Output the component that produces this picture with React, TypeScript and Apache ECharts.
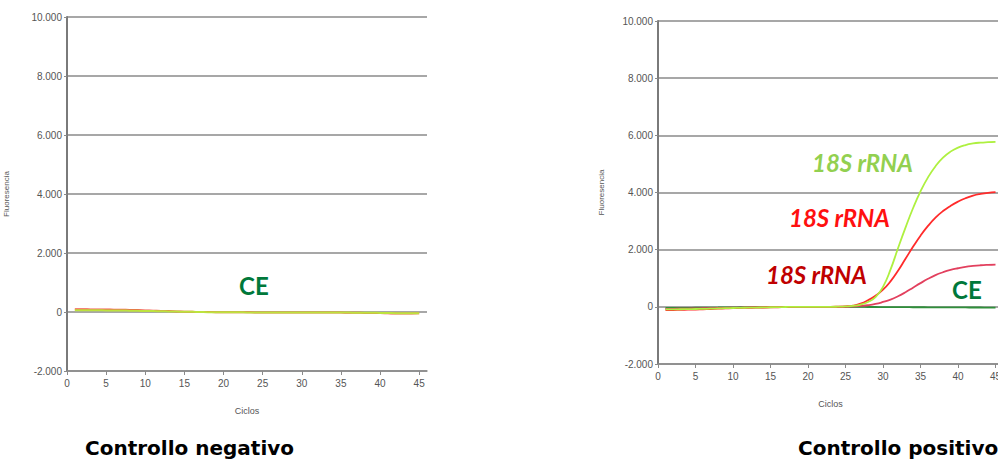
import React, { useEffect, useRef } from "react";
import * as echarts from "echarts";

const cycles = [1,2,3,4,5,6,7,8,9,10,11,12,13,14,15,16,17,18,19,20,21,22,23,24,25,26,27,28,29,30,31,32,33,34,35,36,37,38,39,40,41,42,43,44,45];
const xTicks = [0,5,10,15,20,25,30,35,40,45];
const yTicks = [-2000,0,2000,4000,6000,8000,10000];

// Controllo negativo
const negRed = [90,92,88,85,82,80,76,70,64,55,46,36,30,20,12,5,0,0,-5,-5,-10,-10,-10,-15,-15,-15,-15,-15,-20,-20,-20,-20,-20,-20,-20,-25,-25,-30,-30,-35,-45,-55,-55,-50,-45];
const negGreen = [60,62,60,56,55,50,50,45,40,35,30,25,20,15,10,5,0,-5,-5,-10,-10,-10,-15,-15,-15,-15,-15,-15,-15,-20,-20,-20,-20,-20,-20,-20,-25,-25,-25,-30,-35,-40,-40,-40,-40];

// Controllo positivo
const posGreen18S = [-90,-90,-85,-80,-75,-70,-65,-55,-45,-40,-35,-30,-25,-20,-15,-10,-5,0,0,0,0,0,0,5,15,35,80,170,340,700,1300,2050,2770,3450,4040,4530,4920,5220,5430,5570,5660,5715,5745,5760,5770];
const posRed18S = [-110,-110,-105,-100,-95,-85,-75,-65,-55,-45,-40,-35,-30,-25,-20,-15,-10,-5,0,0,0,0,0,5,15,45,110,230,390,600,890,1260,1680,2100,2490,2830,3120,3350,3530,3680,3800,3890,3950,3990,4010];
const posCrimson18S = [-70,-70,-65,-60,-55,-50,-45,-40,-35,-30,-25,-20,-18,-15,-12,-10,-8,-5,-3,0,0,0,0,0,5,15,30,55,100,170,255,370,510,670,830,980,1110,1210,1290,1350,1400,1432,1455,1470,1480];
const posCE = [-40,-40,-38,-35,-32,-30,-27,-24,-20,-17,-14,-11,-8,-5,-3,0,0,0,0,0,0,0,0,0,0,-2,-4,-5,-6,-8,-10,-11,-12,-14,-15,-16,-18,-19,-20,-21,-22,-23,-24,-25,-25];

const pairs = (vals: number[]) => cycles.map((c, i) => [c, vals[i]]);

const axisGray = "#8a8a8a";
const labelGray = "#555";
const tickFont = "Liberation Sans";

function xAxisCfg(gridIndex: number) {
  return {
    type: "value",
    gridIndex,
    min: 0,
    max: 46,
    name: "Ciclos",
    nameLocation: "middle",
    nameGap: 35,
    nameTextStyle: { color: labelGray, fontSize: 9, fontFamily: tickFont },
    axisLine: { show: true, onZero: false, lineStyle: { color: axisGray, width: 1.5 } },
    axisTick: { show: true, length: 4, customValues: xTicks, lineStyle: { color: axisGray } },
    axisLabel: { customValues: xTicks, color: labelGray, fontSize: 10, fontFamily: tickFont, margin: 7 },
    splitLine: { show: false },
  };
}

function yAxisCfg(gridIndex: number, nameGap: number) {
  return {
    type: "value",
    gridIndex,
    min: -2000,
    max: 10000,
    interval: 2000,
    name: "Fluoresencia",
    nameLocation: "middle",
    nameGap,
    nameRotate: 90,
    nameTextStyle: { color: labelGray, fontSize: 8, fontFamily: tickFont },
    axisLine: { show: true, lineStyle: { color: "#7a7a7a", width: 2 } },
    axisTick: { show: true, length: 3, lineStyle: { color: axisGray } },
    axisLabel: {
      color: labelGray,
      fontSize: 10,
      fontFamily: tickFont,
      margin: 5,
      formatter: (v: number) => (yTicks.includes(v) ? v.toLocaleString("de-DE") : ""),
    },
    splitLine: { show: true, lineStyle: { color: axisGray, width: 1.5 } },
  };
}

function lineSeries(xi: number, data: number[], color: string, width = 1.8) {
  return {
    type: "line",
    xAxisIndex: xi,
    yAxisIndex: xi,
    data: pairs(data),
    smooth: true,
    showSymbol: false,
    lineStyle: { color, width },
    z: 5,
  };
}

const labelFont = "Lato";
const titleFont = "DejaVu Sans";

export default function App() {
  const ref = useRef<HTMLDivElement>(null);
  useEffect(() => {
    if (!ref.current) return;
    const chart = echarts.init(ref.current, null, { renderer: "svg" });
    chart.setOption({
      animation: false,
      backgroundColor: "#ffffff",
      grid: [
        { left: 67, top: 17, width: 360, height: 354, outerBoundsMode: "none", containLabel: false },
        { left: 658, top: 21, width: 345, height: 343, outerBoundsMode: "none", containLabel: false },
      ],
      xAxis: [xAxisCfg(0), xAxisCfg(1)],
      yAxis: [yAxisCfg(0, 57), yAxisCfg(1, 53)],
      series: [
        lineSeries(0, negRed, "#f25a4a", 2),
        lineSeries(0, negGreen, "#bde33e", 2),
        lineSeries(1, posCE, "#2f8f3a", 1.8),
        lineSeries(1, posCrimson18S, "#e2405e", 1.8),
        lineSeries(1, posRed18S, "#ff2b2b", 1.8),
        lineSeries(1, posGreen18S, "#aef040", 1.8),
      ],
      graphic: [
        { type: "text", left: 239, top: 273, style: { text: "CE", fill: "#00783a", font: `bold 24px ${labelFont}` } },
        { type: "text", left: 952, top: 277, style: { text: "CE", fill: "#00783a", font: `bold 24px ${labelFont}` } },
        { type: "text", left: 812, top: 150, style: { text: "18S rRNA", fill: "#92d050", font: `italic bold 24px ${labelFont}` } },
        { type: "text", left: 789, top: 205, style: { text: "18S rRNA", fill: "#ff1010", font: `italic bold 24px ${labelFont}` } },
        { type: "text", left: 766, top: 262, style: { text: "18S rRNA", fill: "#c00000", font: `italic bold 24px ${labelFont}` } },
        { type: "text", left: 85, top: 438, style: { text: "Controllo negativo", fill: "#000", font: `bold 20px ${titleFont}` } },
        { type: "text", left: 798, top: 438, style: { text: "Controllo positivo", fill: "#000", font: `bold 20px ${titleFont}` } },
      ],
    });
    return () => chart.dispose();
  }, []);
  return (
    <div style={{ position: "fixed", left: 0, top: 0, width: 998, height: 463, overflow: "hidden", background: "#fff" }}>
      <div ref={ref} style={{ width: 998, height: 463 }} />
    </div>
  );
}
